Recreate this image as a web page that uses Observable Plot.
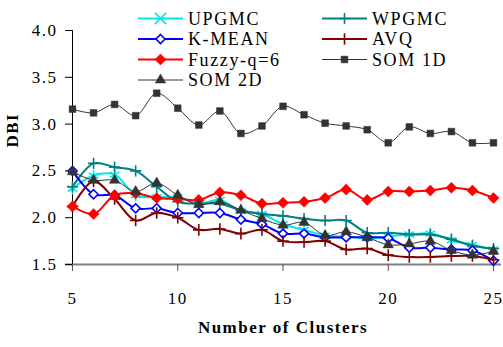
<!DOCTYPE html>
<html>
<head>
<meta charset="utf-8">
<script src="https://cdn.jsdelivr.net/npm/d3@7"></script>
<script src="https://cdn.jsdelivr.net/npm/@observablehq/plot@0.6"></script>
<style>
  html, body { margin: 0; padding: 0; background: #fff; }
  #chart { position: relative; width: 503px; height: 347px; font-family: "Liberation Serif", "Times New Roman", serif; }
  #chart svg text { letter-spacing: 1.5px; }
  #legend { position: absolute; left: 0; top: 0; pointer-events: none; }
</style>
</head>
<body>
<div id="chart"></div>
<script>
// Davies–Bouldin index (DBI) by number of clusters for each clustering method
const clusters = [5, 6, 7, 8, 9, 10, 11, 12, 13, 14, 15, 16, 17, 18, 19, 20, 21, 22, 23, 24, 25];
const upgmc  = [2.31, 2.45, 2.46, 2.24, 2.22, 2.22, 2.15, 2.19, 2.07, 2.04, 1.93, 1.87, 1.81, 1.80, 1.78, 1.80, 1.82, 1.83, 1.76, 1.71, 1.66];
const wpgmc  = [2.33, 2.58, 2.54, 2.50, 2.33, 2.17, 2.15, 2.15, 2.08, 2.04, 2.02, 1.99, 1.97, 1.97, 1.84, 1.84, 1.82, 1.82, 1.77, 1.70, 1.67];
const kmean  = [2.50, 2.25, 2.24, 2.10, 2.10, 2.05, 2.05, 2.05, 1.98, 1.93, 1.83, 1.83, 1.79, 1.79, 1.79, 1.78, 1.68, 1.68, 1.66, 1.65, 1.54];
const avq    = [2.12, 2.39, 2.20, 1.97, 2.05, 2.00, 1.87, 1.88, 1.83, 1.87, 1.75, 1.74, 1.75, 1.66, 1.67, 1.60, 1.58, 1.58, 1.59, 1.59, 1.55];
const fuzzy  = [2.12, 2.04, 2.24, 2.26, 2.21, 2.20, 2.19, 2.27, 2.24, 2.15, 2.16, 2.17, 2.21, 2.30, 2.19, 2.28, 2.28, 2.29, 2.32, 2.29, 2.21];
const som1d  = [3.16, 3.12, 3.21, 3.09, 3.33, 3.17, 2.99, 3.14, 2.90, 2.98, 3.19, 3.10, 3.01, 2.98, 2.94, 2.80, 2.97, 2.90, 2.92, 2.80, 2.80];
const som2d  = [2.49, 2.40, 2.40, 2.28, 2.37, 2.24, 2.14, 2.17, 2.08, 1.99, 1.92, 1.95, 1.81, 1.85, 1.79, 1.71, 1.72, 1.75, 1.65, 1.60, 1.64];

const seriesNames = ["UPGMC", "WPGMC", "K-MEAN", "AVQ", "Fuzzy-q=6", "SOM 1D", "SOM 2D"];
const seriesValues = [upgmc, wpgmc, kmean, avq, fuzzy, som1d, som2d];
const xTicks = [5, 10, 15, 20, 25];
const yTicks = [1.5, 2.0, 2.5, 3.0, 3.5, 4.0];

// Visual style per method
const styles = {
  "UPGMC":     {color: "#00e8e8", width: 2, symbol: "asterisk", r: 5.2, filled: false},
  "WPGMC":     {color: "#008080", width: 2, symbol: "plus",     r: 3.7, filled: false},
  "K-MEAN":    {color: "#0000ff", width: 2, symbol: "diamond2", r: 4.1, filled: false},
  "AVQ":       {color: "#800000", width: 2, symbol: "plus",     r: 3.8, filled: false},
  "Fuzzy-q=6": {color: "#ff0000", width: 2, symbol: "diamond2", r: 5.0, filled: true},
  "SOM 1D":    {color: "#333333", width: 1, symbol: "square",   r: 3.8, filled: true},
  "SOM 2D":    {color: "#333333", width: 1, symbol: "triangle", r: 3.9, filled: true}
};

const rows = seriesNames.flatMap((name, j) =>
  clusters.map((k, i) => ({method: name, k, dbi: seriesValues[j][i]})));

const seriesMarks = seriesNames.flatMap(name => {
  const s = styles[name];
  const data = rows.filter(d => d.method === name);
  return [
    Plot.line(data, {x: "k", y: "dbi", stroke: s.color, strokeWidth: s.width, curve: "catmull-rom"}),
    Plot.dot(data, {
      x: "k", y: "dbi", symbol: s.symbol, r: s.r,
      fill: s.filled ? s.color : "white",
      fillOpacity: s.filled ? 1 : (s.symbol === "diamond2" ? 1 : 0),
      stroke: s.color, strokeWidth: s.filled ? 0.5 : 1.6
    })
  ];
});

const chart = Plot.plot({
  width: 503,
  height: 347,
  marginLeft: 72,
  marginRight: 10,
  marginTop: 30,
  marginBottom: 83,
  style: {fontFamily: "'Liberation Serif', 'Times New Roman', serif", fontSize: "17px", color: "#000", background: "#fff"},
  x: {domain: [5, 25]},
  y: {domain: [1.5, 4.0]},
  marks: [
    Plot.ruleY([1.5], {stroke: "#808080", strokeWidth: 2, insetLeft: -7, insetRight: -8}),
    Plot.ruleX([5], {y1: 1.5, y2: 4.0, stroke: "#000", strokeWidth: 1}),
    Plot.axisX({ticks: xTicks, tickSize: 7, tickPadding: 20, stroke: "#555", fontSize: 17, label: null}),
    Plot.axisY({ticks: yTicks, tickSize: 7, tickPadding: 8, tickFormat: d => d.toFixed(1), fontSize: 17, label: null}),
    ...seriesMarks,
    Plot.text(["DBI"], {frameAnchor: "left", dx: -60, rotate: -90, fontWeight: "bold", fontSize: 17, text: d => d}),
    Plot.text(["Number of Clusters"], {frameAnchor: "bottom", dy: 68, fontWeight: "bold", fontSize: 17, text: d => d})
  ]
});

const container = document.getElementById("chart");
container.appendChild(chart);

// Legend: two columns laid over the top of the plot area
const legend = d3.select(container).append("svg")
  .attr("id", "legend").attr("width", 503).attr("height", 100);
const colX = [138, 322];
const rowY = [18.5, 39, 59.5, 80];
const symMap = {asterisk: d3.symbolAsterisk, plus: d3.symbolPlus, diamond2: d3.symbolDiamond2, square: d3.symbolSquare, triangle: d3.symbolTriangle};
seriesNames.forEach((name, i) => {
  const s = styles[name];
  const col = i % 2, row = Math.floor(i / 2);
  const g = legend.append("g").attr("transform", `translate(${colX[col]},${rowY[row]})`);
  g.append("line").attr("x1", 0).attr("x2", 45).attr("y1", 0).attr("y2", 0)
    .attr("stroke", s.color).attr("stroke-width", s.width);
  g.append("path")
    .attr("transform", "translate(22.5,0)")
    .attr("d", d3.symbol(name === "UPGMC" ? d3.symbolTimes : symMap[s.symbol], Math.PI * s.r * s.r)())
    .attr("fill", s.filled ? s.color : (s.symbol === "diamond2" ? "white" : "none"))
    .attr("stroke", s.color).attr("stroke-width", s.filled ? 0.5 : 1.6);
  g.append("text").attr("x", 50).attr("y", 0).attr("dy", "0.35em")
    .attr("font-size", 18).attr("font-family", "'Liberation Serif', 'Times New Roman', serif")
    .style("letter-spacing", "1.6px")
    .text(name);
});
</script>
</body>
</html>
